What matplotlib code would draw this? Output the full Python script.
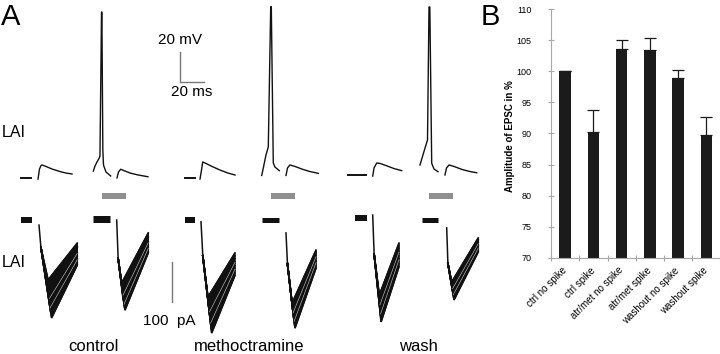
import numpy as np
import matplotlib
matplotlib.use("Agg")
import matplotlib.pyplot as plt
from matplotlib.transforms import ScaledTranslation

plt.rcParams['font.family'] = ['Liberation Sans', 'DejaVu Sans']

# ------------------------------------------------------------------ data: panel B
conditions = ["ctrl no spike", "ctrl spike", "atr/met no spike",
              "atr/met spike", "washout no spike", "washout spike"]
amplitude = [100.0, 90.3, 103.6, 103.4, 99.0, 89.7]
sem = [0.0, 3.5, 1.4, 1.9, 1.3, 2.9]
y_ticks = [70, 75, 80, 85, 90, 95, 100, 105, 110]

# ------------------------------------------------------------------ data: panel A
# voltage recordings (time in ms, membrane potential in mV, relative to local level)
ctrl_ns_base_t = [0, 8.5]
ctrl_ns_base_v = [0, 0]
ctrl_ns_epsp_t = [14.2, 15.4, 16.7, 17.5, 20.8, 25.8, 32.5, 37.5, 42.5]
ctrl_ns_epsp_v = [-0.7, 6.0, 8.3, 8.7, 7.7, 6.0, 4.3, 3.3, 2.7]

ctrl_sp_spike_t = [0.25, 1.7, 3.3, 5.0, 5.8, 7.1, 7.4, 8.2, 8.75, 10.8, 14.75]
ctrl_sp_spike_v = [3.3, 6.7, 9.3, 11.7, 13.3, 109.3, 109.3, 17.3, 7.3, 2.7, 0.0]
ctrl_sp_epsp_t = [20.0, 21.25, 23.1, 25.8, 30.8, 37.5, 45.8]
ctrl_sp_epsp_v = [-1.3, 2.7, 4.5, 3.6, 2.0, 0.7, -0.5]

meth_ns_base_t = [0, 8.3]
meth_ns_base_v = [0, 0]
meth_ns_epsp_t = [12.5, 13.75, 14.75, 17.5, 22.5, 29.2, 35.8, 41.7]
meth_ns_epsp_v = [-0.7, 5.3, 10.7, 9.7, 7.7, 5.3, 3.3, 2.0]

meth_sp_spike_t = [-0.25, 1.1, 3.3, 5.25, 7.25, 7.75, 9.4, 10.8, 14.4]
meth_sp_spike_v = [-0.3, 4.7, 13.3, 18.7, 112.2, 112.2, 8.0, 5.3, 2.9]
meth_sp_epsp_t = [20.0, 21.25, 23.3, 27.5, 34.2, 40.0, 46.9]
meth_sp_epsp_v = [-0.3, 4.7, 6.7, 5.7, 3.7, 2.3, 1.1]

wash_ns_base_t = [0, 15]
wash_ns_base_v = [0, 0]
wash_ns_epsp_t = [20.6, 21.7, 23.9, 26.7, 31.7, 38.3, 44.75]
wash_ns_epsp_v = [-0.7, 4.7, 8.0, 7.7, 6.3, 4.3, 2.9]

wash_sp_spike_t = [0.0, 1.7, 4.2, 6.25, 7.5, 8.2, 9.75, 11.7, 15.0]
wash_sp_spike_v = [4.7, 9.3, 16.0, 21.3, 110.0, 110.0, 5.8, 2.0, 0.2]
wash_sp_epsp_t = [20.8, 22.1, 24.2, 28.3, 35.0, 41.7, 47.25]
wash_sp_epsp_v = [-2.0, 2.7, 4.7, 3.7, 1.7, 0.3, -0.5]

# current recordings (time in ms from stimulus, current in pA)
ctrl_ns_base = [-15.0, -5.6]
ctrl_ns_art = -14
ctrl_ns_knee = [1.6, -70]
ctrl_ns_pk_t = [7.6, 8.1, 8.0, 8.7, 8.6, 9.3, 9.1, 9.8, 10.0, 10.5]
ctrl_ns_pk = [-151, -172, -178, -195, -201, -214, -219, -231, -236, -246]
ctrl_ns_end_t = 31.9
ctrl_ns_end = [-59, -70, -68, -82, -86, -92, -98, -101, -109, -114]

ctrl_sp_base = [-20.0, -5.6]
ctrl_sp_art = -4
ctrl_sp_knee = [1.2, -100]
ctrl_sp_pk_t = [4.2, 4.6, 4.9, 5.3, 5.2, 5.8, 6.1, 6.3, 6.6, 6.9]
ctrl_sp_pk = [-161, -170, -184, -189, -198, -205, -212, -218, -224, -229]
ctrl_sp_end_t = 26.3
ctrl_sp_end = [-36, -45, -49, -58, -61, -67, -72, -77, -83, -86]

meth_ns_base = [-13.3, -5.0]
meth_ns_art = -5
meth_ns_knee = [1.5, -90]
meth_ns_pk_t = [5.8, 6.3, 6.5, 7.0, 7.4, 7.6, 8.0, 8.3, 8.6, 8.9]
meth_ns_pk = [-193, -206, -219, -228, -238, -247, -256, -265, -274, -283]
meth_ns_end_t = 28.3
meth_ns_end = [-83, -90, -97, -104, -109, -115, -121, -127, -133, -139]

meth_sp_base = [-20.25, -5.6]
meth_sp_art = -33
meth_sp_knee = [1.2, -110]
meth_sp_pk_t = [5.0, 5.3, 5.6, 5.8, 6.1, 6.4, 6.7, 6.9, 7.2, 7.5]
meth_sp_pk = [-209, -216, -225, -231, -238, -245, -252, -258, -265, -271]
meth_sp_end_t = 25.0
meth_sp_end = [-76, -81, -86, -90, -96, -101, -105, -111, -116, -121]

wash_ns_base = [-14.75, -5.0]
wash_ns_art = 8
wash_ns_knee = [1.2, -90]
wash_ns_pk_t = [5.5, 5.7, 5.8, 6.0, 6.2, 6.3, 6.5, 6.7, 6.8, 7.0]
wash_ns_pk = [-192, -199, -207, -214, -222, -229, -237, -244, -251, -259]
wash_ns_end_t = 21.9
wash_ns_end = [-62, -69, -75, -82, -88, -94, -101, -108, -114, -121]

wash_sp_base = [-20.8, -7.0]
wash_sp_art = -21
wash_sp_knee = [1.0, -110]
wash_sp_pk_t = [4.2, 4.4, 4.6, 4.8, 5.0, 5.2, 5.4, 5.6, 5.9, 6.1]
wash_sp_pk = [-156, -161, -166, -171, -176, -181, -186, -191, -196, -201]
wash_sp_end_t = 26.3
wash_sp_end = [-46, -50, -54, -58, -62, -65, -69, -73, -77, -81]

stim_bar_start_ms = [7.5, 7.25, 7.75]
stim_bar_len_ms = 20

# ------------------------------------------------------------------ figure
fig = plt.figure(figsize=(7.2, 3.54), dpi=100)
axA = fig.add_axes([0, 0, 1, 1])
axA.set_xlim(0, 720)
axA.set_ylim(354, 0)
axA.axis('off')

MS, MV, PA = 1.2, 1.5, 0.4     # pixels per ms / mV / pA
TR = '#111111'


def vtrace(x0, y0, t, v, lw=1.0):
    axA.plot(x0 + np.asarray(t) * MS, y0 - np.asarray(v) * MV, color=TR, lw=lw,
             solid_joinstyle='round')


vtrace(21, 178, ctrl_ns_base_t, ctrl_ns_base_v, lw=1.4)
vtrace(21, 178, ctrl_ns_epsp_t, ctrl_ns_epsp_v)
vtrace(93, 176, ctrl_sp_spike_t, ctrl_sp_spike_v)
vtrace(93, 176, ctrl_sp_epsp_t, ctrl_sp_epsp_v)
vtrace(185, 178, meth_ns_base_t, meth_ns_base_v, lw=1.4)
vtrace(185, 178, meth_ns_epsp_t, meth_ns_epsp_v)
vtrace(262, 175, meth_sp_spike_t, meth_sp_spike_v)
vtrace(262, 175, meth_sp_epsp_t, meth_sp_epsp_v)
vtrace(348, 175, wash_ns_base_t, wash_ns_base_v, lw=1.4)
vtrace(348, 175, wash_ns_epsp_t, wash_ns_epsp_v)
vtrace(420, 172, wash_sp_spike_t, wash_sp_spike_v)
vtrace(420, 172, wash_sp_epsp_t, wash_sp_epsp_v)

for x0, st in zip([93, 262, 420], stim_bar_start_ms):
    axA.add_patch(plt.Rectangle((x0 + st * MS, 193), stim_bar_len_ms * MS, 6,
                                color='#8f8f8f', lw=0))


def itrace(x0, y0, base, art, knee, pk_t, pk, end_t, end, noise_px=6):
    bx = x0 + np.asarray(base) * MS
    axA.plot(bx, [y0, y0], color=TR, lw=noise_px * 0.72, solid_capstyle='butt')
    axA.plot(x0 + np.array([0, knee[0]]) * MS, y0 - np.array([art, knee[1]]) * PA,
             color=TR, lw=1.1)
    sweeps = []
    for tp, ap, ae in zip(pk_t, pk, end):
        t = np.array([knee[0], tp, end_t])
        a = np.array([knee[1], ap, ae])
        sweeps.append((x0 + t * MS, y0 - a * PA))
    ux, uy = sweeps[0]
    lx, ly = sweeps[-1]
    px = np.concatenate([ux, lx[::-1]])
    py = np.concatenate([uy, ly[::-1]])
    axA.fill(px, py, color=TR, lw=1.0, ec=TR, joinstyle='miter')
    for sx, sy in sweeps:
        axA.plot(sx, sy, color=TR, lw=1.2, solid_joinstyle='miter')
    for k in (3, 6):
        sx, sy = sweeps[k]
        axA.plot(sx[1:], sy[1:] + 1.0, color='white', lw=0.4, alpha=0.8)


itrace(39, 219.5, ctrl_ns_base, ctrl_ns_art, ctrl_ns_knee, ctrl_ns_pk_t, ctrl_ns_pk,
       ctrl_ns_end_t, ctrl_ns_end)
itrace(116.7, 218.5, ctrl_sp_base, ctrl_sp_art, ctrl_sp_knee, ctrl_sp_pk_t, ctrl_sp_pk,
       ctrl_sp_end_t, ctrl_sp_end, noise_px=7)
itrace(201, 219.8, meth_ns_base, meth_ns_art, meth_ns_knee, meth_ns_pk_t, meth_ns_pk,
       meth_ns_end_t, meth_ns_end)
itrace(286, 219.7, meth_sp_base, meth_sp_art, meth_sp_knee, meth_sp_pk_t, meth_sp_pk,
       meth_sp_end_t, meth_sp_end, noise_px=5)
itrace(372.7, 218.3, wash_ns_base, wash_ns_art, wash_ns_knee, wash_ns_pk_t, wash_ns_pk,
       wash_ns_end_t, wash_ns_end)
itrace(446.7, 219.5, wash_sp_base, wash_sp_art, wash_sp_knee, wash_sp_pk_t, wash_sp_pk,
       wash_sp_end_t, wash_sp_end, noise_px=5)

SB = '#7a7a7a'
axA.plot([180, 180, 180 + 20 * MS], [81.7 - 20 * MV, 81.7, 81.7], color=SB, lw=1.0)
axA.plot([171.5, 171.5], [301.7 - 100 * PA, 301.7], color=SB, lw=1.0)

axA.text(1, 25, "A", fontsize=21, ha='left', va='baseline')
axA.text(481, 25, "B", fontsize=21, ha='left', va='baseline')
axA.text(2, 137, "LAI", fontsize=11.5, ha='left', va='baseline')
axA.text(2, 267, "LAI", fontsize=11.5, ha='left', va='baseline')
axA.text(179.5, 44, "20 mV", fontsize=11, ha='center', va='baseline')
axA.text(192, 96.5, "20 ms", fontsize=11, ha='center', va='baseline')
axA.text(169.5, 325, "100  pA", fontsize=11, ha='center', va='baseline')
axA.text(93, 351, "control", fontsize=12, ha='center', va='baseline')
axA.text(249.5, 351, "methoctramine", fontsize=12, ha='center', va='baseline')
axA.text(418, 351, "wash", fontsize=12, ha='center', va='baseline')
axA.text(510, 136.5, "Amplitude of EPSC in %", fontsize=7, fontweight='bold',
         rotation=90, ha='center', va='center')

# ------------------------------------------------------------------ panel B
GR = '#a8a8a8'
axB = fig.add_axes([551 / 720, (354 - 257.7) / 354, 169.5 / 720, 248.4 / 354])
x = np.arange(len(conditions))
axB.bar(x, amplitude, width=0.4, color='#1b1b1b', zorder=2)
axB.errorbar(x, amplitude, yerr=[np.zeros(len(sem)), sem], fmt='none',
             ecolor='#1b1b1b', elinewidth=0.9, capsize=4, capthick=0.9, zorder=3)
axB.set_xlim(-0.5, len(conditions) - 0.5)
axB.set_ylim(70, 110)
axB.set_yticks(y_ticks)
axB.set_yticklabels([str(v) for v in y_ticks])
axB.set_xticks(x)
axB.set_xticklabels(conditions, rotation=45, ha='right', va='center',
                    rotation_mode='anchor', fontsize=7)
off = ScaledTranslation(5 / 100, 0, fig.dpi_scale_trans)
for lab in axB.get_xticklabels():
    lab.set_transform(lab.get_transform() + off)
axB.set_xticks(np.arange(-0.5, len(conditions), 1.0), minor=True)
axB.tick_params(axis='x', which='major', length=0, pad=8)
axB.tick_params(axis='x', which='minor', direction='inout', length=5, color=GR, width=0.8)
axB.tick_params(axis='y', direction='inout', length=4, color=GR, width=0.8,
                labelsize=6.5, pad=12)
for s in ['top', 'right']:
    axB.spines[s].set_visible(False)
for s in ['left', 'bottom']:
    axB.spines[s].set_color(GR)
    axB.spines[s].set_linewidth(0.8)
axB.patch.set_alpha(0)

fig.savefig("out.png", dpi=100)
